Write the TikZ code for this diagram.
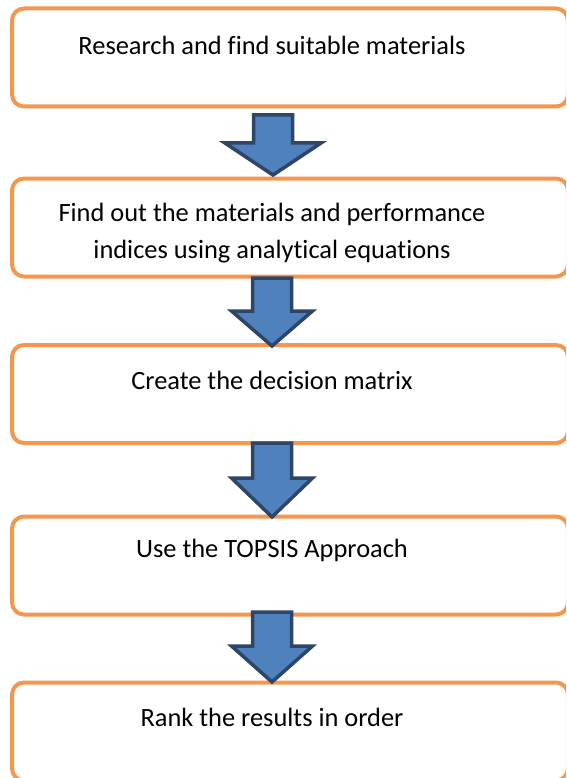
\documentclass[tikz,border=0pt]{standalone}
\usepackage{fontspec}
\setmainfont[Ligatures=CommonOff]{Carlito}
\usetikzlibrary{calc}
\definecolor{myorange}{RGB}{244,150,78}
\definecolor{myblue}{RGB}{79,129,189}
\definecolor{mydarkblue}{RGB}{47,69,103}

\tikzset{
  stepbox/.style={draw=myorange, line width=4pt, rounded corners=12pt, fill=white,
    minimum width=556pt, minimum height=98pt, inner sep=0pt},
  steptext/.style={font=\fontsize{26.4}{37}\selectfont, align=center, inner sep=0pt},
  blockarrow/.style={fill=myblue, draw=mydarkblue, line width=3.5pt, line join=miter}
}

% #1 top of the shaft, #2 tip, #3 half width of the head, #4 length of the head
\newcommand{\downblock}[4]{%
  \filldraw[blockarrow] ($(#1)+(-19.5,0)$) -- ($(#1)+(19.5,0)$) -- ($(#2)+(19.5,-#4)$)
    -- ($(#2)+(#3,-#4)$) -- (#2) -- ($(#2)+(-#3,-#4)$) -- ($(#2)+(-19.5,-#4)$) -- cycle;}

\begin{document}
\begin{tikzpicture}[x=1pt,y=-1pt]
\useasboundingbox (0,0) rectangle (566,778);
\clip (0,0) rectangle (566,778);

\node[stepbox] (research) at (290,57.5) {};
\node[stepbox] (indices) at (290,227.5) {};
\node[stepbox] (matrix) at (290,394) {};
\node[stepbox] (topsis) at (290,565.5) {};
\node[stepbox] (rank) at (290,731.5) {};

\node[steptext] (researchtxt) at (272,45) {Research and find suitable materials};
\begin{scope}
\clip (12,178) rectangle (568,263);
\node[steptext] (indicestxt) at (272,233) {Find out the materials and performance\\indices using analytical equations};
\end{scope}
\node[steptext] (matrixtxt) at (272,380) {Create the decision matrix};
\node[steptext] (topsistxt) at (272,550) {Use the TOPSIS Approach};
\node[steptext] (ranktxt) at (272,717) {Rank the results in order};

\coordinate (a1) at (273,115);
\coordinate (a1tip) at (273,175);
\coordinate (a2) at (272,278);
\coordinate (a2tip) at (272,346);
\coordinate (a3) at (272,443);
\coordinate (a3tip) at (272,517);
\coordinate (a4) at (272,612);
\coordinate (a4tip) at (272,682);

\downblock{a1}{a1tip}{48}{32}
\downblock{a2}{a2tip}{40.5}{35}
\downblock{a3}{a3tip}{40.5}{39}
\downblock{a4}{a4tip}{40.5}{36}
\end{tikzpicture}
\end{document}
